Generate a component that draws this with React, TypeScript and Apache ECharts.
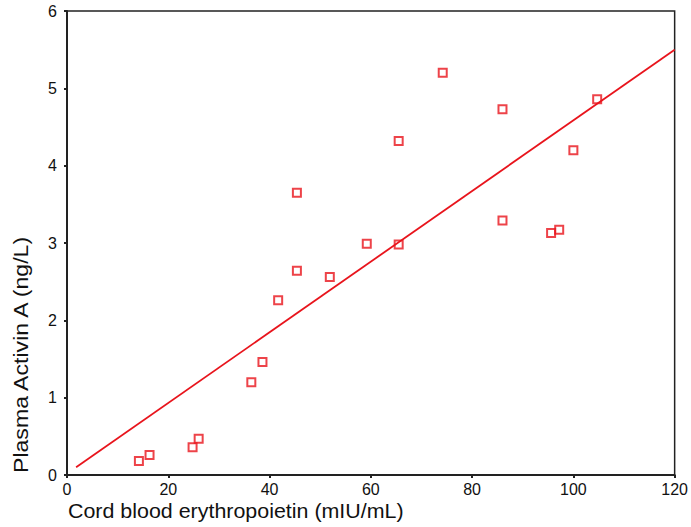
import React, { useEffect, useRef } from "react";
import * as echarts from "echarts";

const epo = [14.2, 16.3, 24.8, 26.0, 36.4, 38.6, 41.7, 45.4, 45.4, 51.9, 59.2, 65.5, 65.5, 74.2, 86.0, 86.0, 95.6, 97.2, 100.0, 104.7];
const activin = [0.18, 0.26, 0.36, 0.47, 1.2, 1.46, 2.26, 2.64, 3.65, 2.56, 2.99, 2.98, 4.32, 5.2, 4.73, 3.29, 3.13, 3.17, 4.2, 4.86];
const fitX = [1.8, 120];
const fitY = [0.1, 5.5];
const xTicks = [0, 20, 40, 60, 80, 100, 120];
const yTicks = [0, 1, 2, 3, 4, 5, 6];

export default function App() {
  const ref = useRef<HTMLDivElement>(null);
  useEffect(() => {
    document.body.style.margin = "0";
    const chart = echarts.init(ref.current!, null, { renderer: "svg" });
    const red = "#e8141c";
    const font = "Liberation Sans, Arial, sans-serif";
    chart.setOption({
      animation: false,
      backgroundColor: "#fff",
      grid: { left: 67, right: 14, top: 11, bottom: 52, show: true, borderColor: "#222", borderWidth: 1.5 },
      xAxis: {
        type: "value",
        min: xTicks[0],
        max: xTicks[xTicks.length - 1],
        interval: 20,
        splitLine: { show: false },
        axisLine: { show: true, lineStyle: { color: "#222", width: 2 } },
        axisTick: { show: true, length: 3, lineStyle: { color: "#222", width: 2 } },
        axisLabel: { color: "#111", fontSize: 16, fontFamily: font, margin: 6 },
      },
      yAxis: {
        type: "value",
        min: yTicks[0],
        max: yTicks[yTicks.length - 1],
        interval: 1,
        splitLine: { show: false },
        axisLine: { show: true, lineStyle: { color: "#222", width: 2 } },
        axisTick: { show: true, length: 3, lineStyle: { color: "#222", width: 2 } },
        axisLabel: { color: "#111", fontSize: 16, fontFamily: font, margin: 10 },
      },
      graphic: [
        {
          type: "text",
          x: 68,
          y: 511,
          scaleX: 1.02,
          style: { text: "Cord blood erythropoietin (mIU/mL)", fontSize: 21, fontFamily: font, fill: "#111", align: "left", verticalAlign: "middle" },
        },
        {
          type: "text",
          x: 21,
          y: 473,
          rotation: Math.PI / 2,
          scaleX: 1.1,
          style: { text: "Plasma Activin A (ng/L)", fontSize: 21, fontFamily: font, fill: "#111", align: "left", verticalAlign: "middle" },
        },
      ],
      series: [
        {
          type: "line",
          data: fitX.map((x, i) => [x, fitY[i]]),
          symbol: "none",
          lineStyle: { color: red, width: 1.8 },
          z: 1,
        },
        {
          type: "scatter",
          data: epo.map((x, i) => [x, activin[i]]),
          symbol: "rect",
          symbolSize: 8,
          itemStyle: { color: "rgba(255,255,255,0)", borderColor: red, borderWidth: 2 },
          z: 2,
        },
      ],
    });
    return () => chart.dispose();
  }, []);
  return <div ref={ref} style={{ width: 691, height: 527 }} />;
}
